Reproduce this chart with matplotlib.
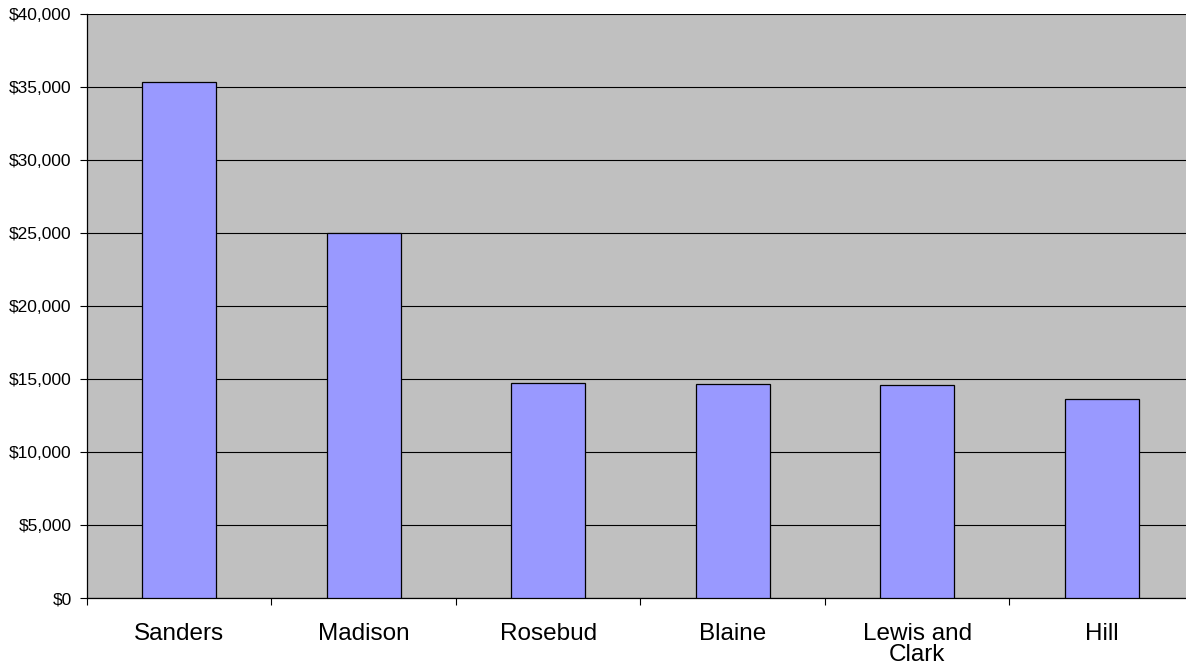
import numpy as np
import matplotlib.pyplot as plt
from matplotlib.ticker import FuncFormatter, FixedLocator

plt.rcParams['font.family'] = ['Liberation Sans', 'DejaVu Sans']

counties = ['Sanders', 'Madison', 'Rosebud', 'Blaine', 'Lewis and\nClark', 'Hill']
values = [35360, 25000, 14750, 14630, 14560, 13630]

fig = plt.figure(figsize=(11.86, 6.66), dpi=100)
# plot area runs slightly past the right edge of the image, like the original
ax = fig.add_axes([87/1186, 68/666, 1107/1186, 584/666])
ax.set_facecolor('#C0C0C0')

x = np.arange(len(counties))
ax.bar(x, values, width=0.4, color='#9999FF', edgecolor='black', linewidth=0.9, zorder=3)

ax.set_xlim(-0.5, len(counties) - 0.5)
ax.set_ylim(0, 40000)
ax.set_yticks(np.arange(0, 40001, 5000))
ax.yaxis.set_major_formatter(FuncFormatter(lambda v, p: '${:,.0f}'.format(v)))
ax.grid(axis='y', color='black', linewidth=0.8, zorder=1)

# category separators as major ticks, labels on minor ticks at bar centres
ax.xaxis.set_major_locator(FixedLocator(np.arange(-0.5, len(counties), 1.0)))
ax.xaxis.set_major_formatter(FuncFormatter(lambda v, p: ''))
ax.xaxis.set_minor_locator(FixedLocator(x))
labs = ax.set_xticklabels(counties, minor=True)
for t in labs:
    t.set_linespacing(0.92)
ax.tick_params(axis='x', which='major', length=5, width=0.8, direction='out')
ax.tick_params(axis='x', which='minor', length=0, pad=18, labelsize=17.5)
ax.tick_params(axis='y', length=5, width=0.8, pad=6, labelsize=12.5)

for s in ['top', 'right']:
    ax.spines[s].set_visible(False)
for s in ['left', 'bottom']:
    ax.spines[s].set_color('black')
    ax.spines[s].set_linewidth(0.9)

fig.savefig('out.png', dpi=100)
